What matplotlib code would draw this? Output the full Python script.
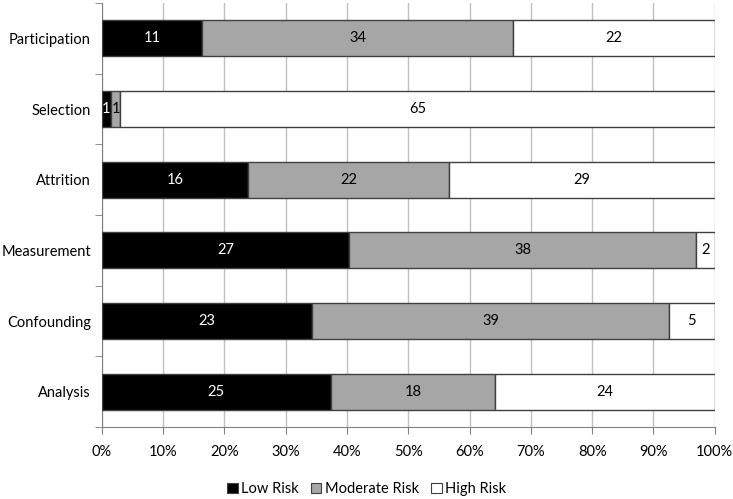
import matplotlib
matplotlib.use("Agg")
import matplotlib.pyplot as plt
import numpy as np

plt.rcParams['font.family'] = ['Lato', 'DejaVu Sans']

categories = ["Participation", "Selection", "Attrition", "Measurement", "Confounding", "Analysis"]
low = [11, 1, 16, 27, 23, 25]
moderate = [34, 1, 22, 38, 39, 18]
high = [22, 65, 29, 2, 5, 24]
series_names = ["Low Risk", "Moderate Risk", "High Risk"]
colors = ["#000000", "#a6a6a6", "#ffffff"]
text_colors = ["white", "black", "black"]
xticks = np.arange(0, 101, 10)
xtick_labels = [f"{v}%" for v in xticks]

fig = plt.figure(figsize=(7.33, 4.99), dpi=100)
ax = fig.add_axes([0.139, 0.144, 0.836, 0.850])

data = np.array([low, moderate, high], dtype=float)
totals = data.sum(axis=0)
pct = data / totals * 100
y = np.arange(len(categories))

left = np.zeros(len(categories))
for i in range(3):
    ax.barh(y, pct[i], left=left, height=0.51, color=colors[i],
            edgecolor="#404040", linewidth=1.0, label=series_names[i], zorder=3)
    for j in range(len(categories)):
        cx = left[j] + pct[i][j] / 2
        ax.text(cx, y[j], str(int(data[i][j])), ha="center", va="center",
                color=text_colors[i], fontsize=10.5, zorder=4)
    left += pct[i]

ax.set_xlim(0, 100)
ax.set_ylim(len(categories) - 0.5, -0.5)
ax.set_xticks(xticks)
ax.set_xticklabels(xtick_labels, fontsize=10.5)
ax.set_yticks(y)
ax.set_yticklabels(categories, fontsize=10.5)
ax.tick_params(axis='y', length=0, pad=8)
ax.set_yticks(np.arange(-0.5, len(categories) + 0.5, 1), minor=True)
ax.tick_params(axis='y', which='minor', length=5, color="#808080")
ax.tick_params(axis='x', length=5, color="#808080", pad=8)
ax.xaxis.grid(True, color="#c0c0c0", linewidth=1.0, zorder=0)
ax.set_axisbelow(True)
for s in ["top", "right"]:
    ax.spines[s].set_visible(False)
for s in ["left", "bottom"]:
    ax.spines[s].set_color("#808080")

leg = fig.legend(loc="center", bbox_to_anchor=(0.5, 0.02), ncol=3, frameon=False,
                 fontsize=10.5, handlelength=0.75, handleheight=0.75, handletextpad=0.25,
                 columnspacing=0.8)
for h in leg.legend_handles:
    h.set_edgecolor("#404040")
    h.set_linewidth(0.8)

fig.savefig("out.png", dpi=100)
